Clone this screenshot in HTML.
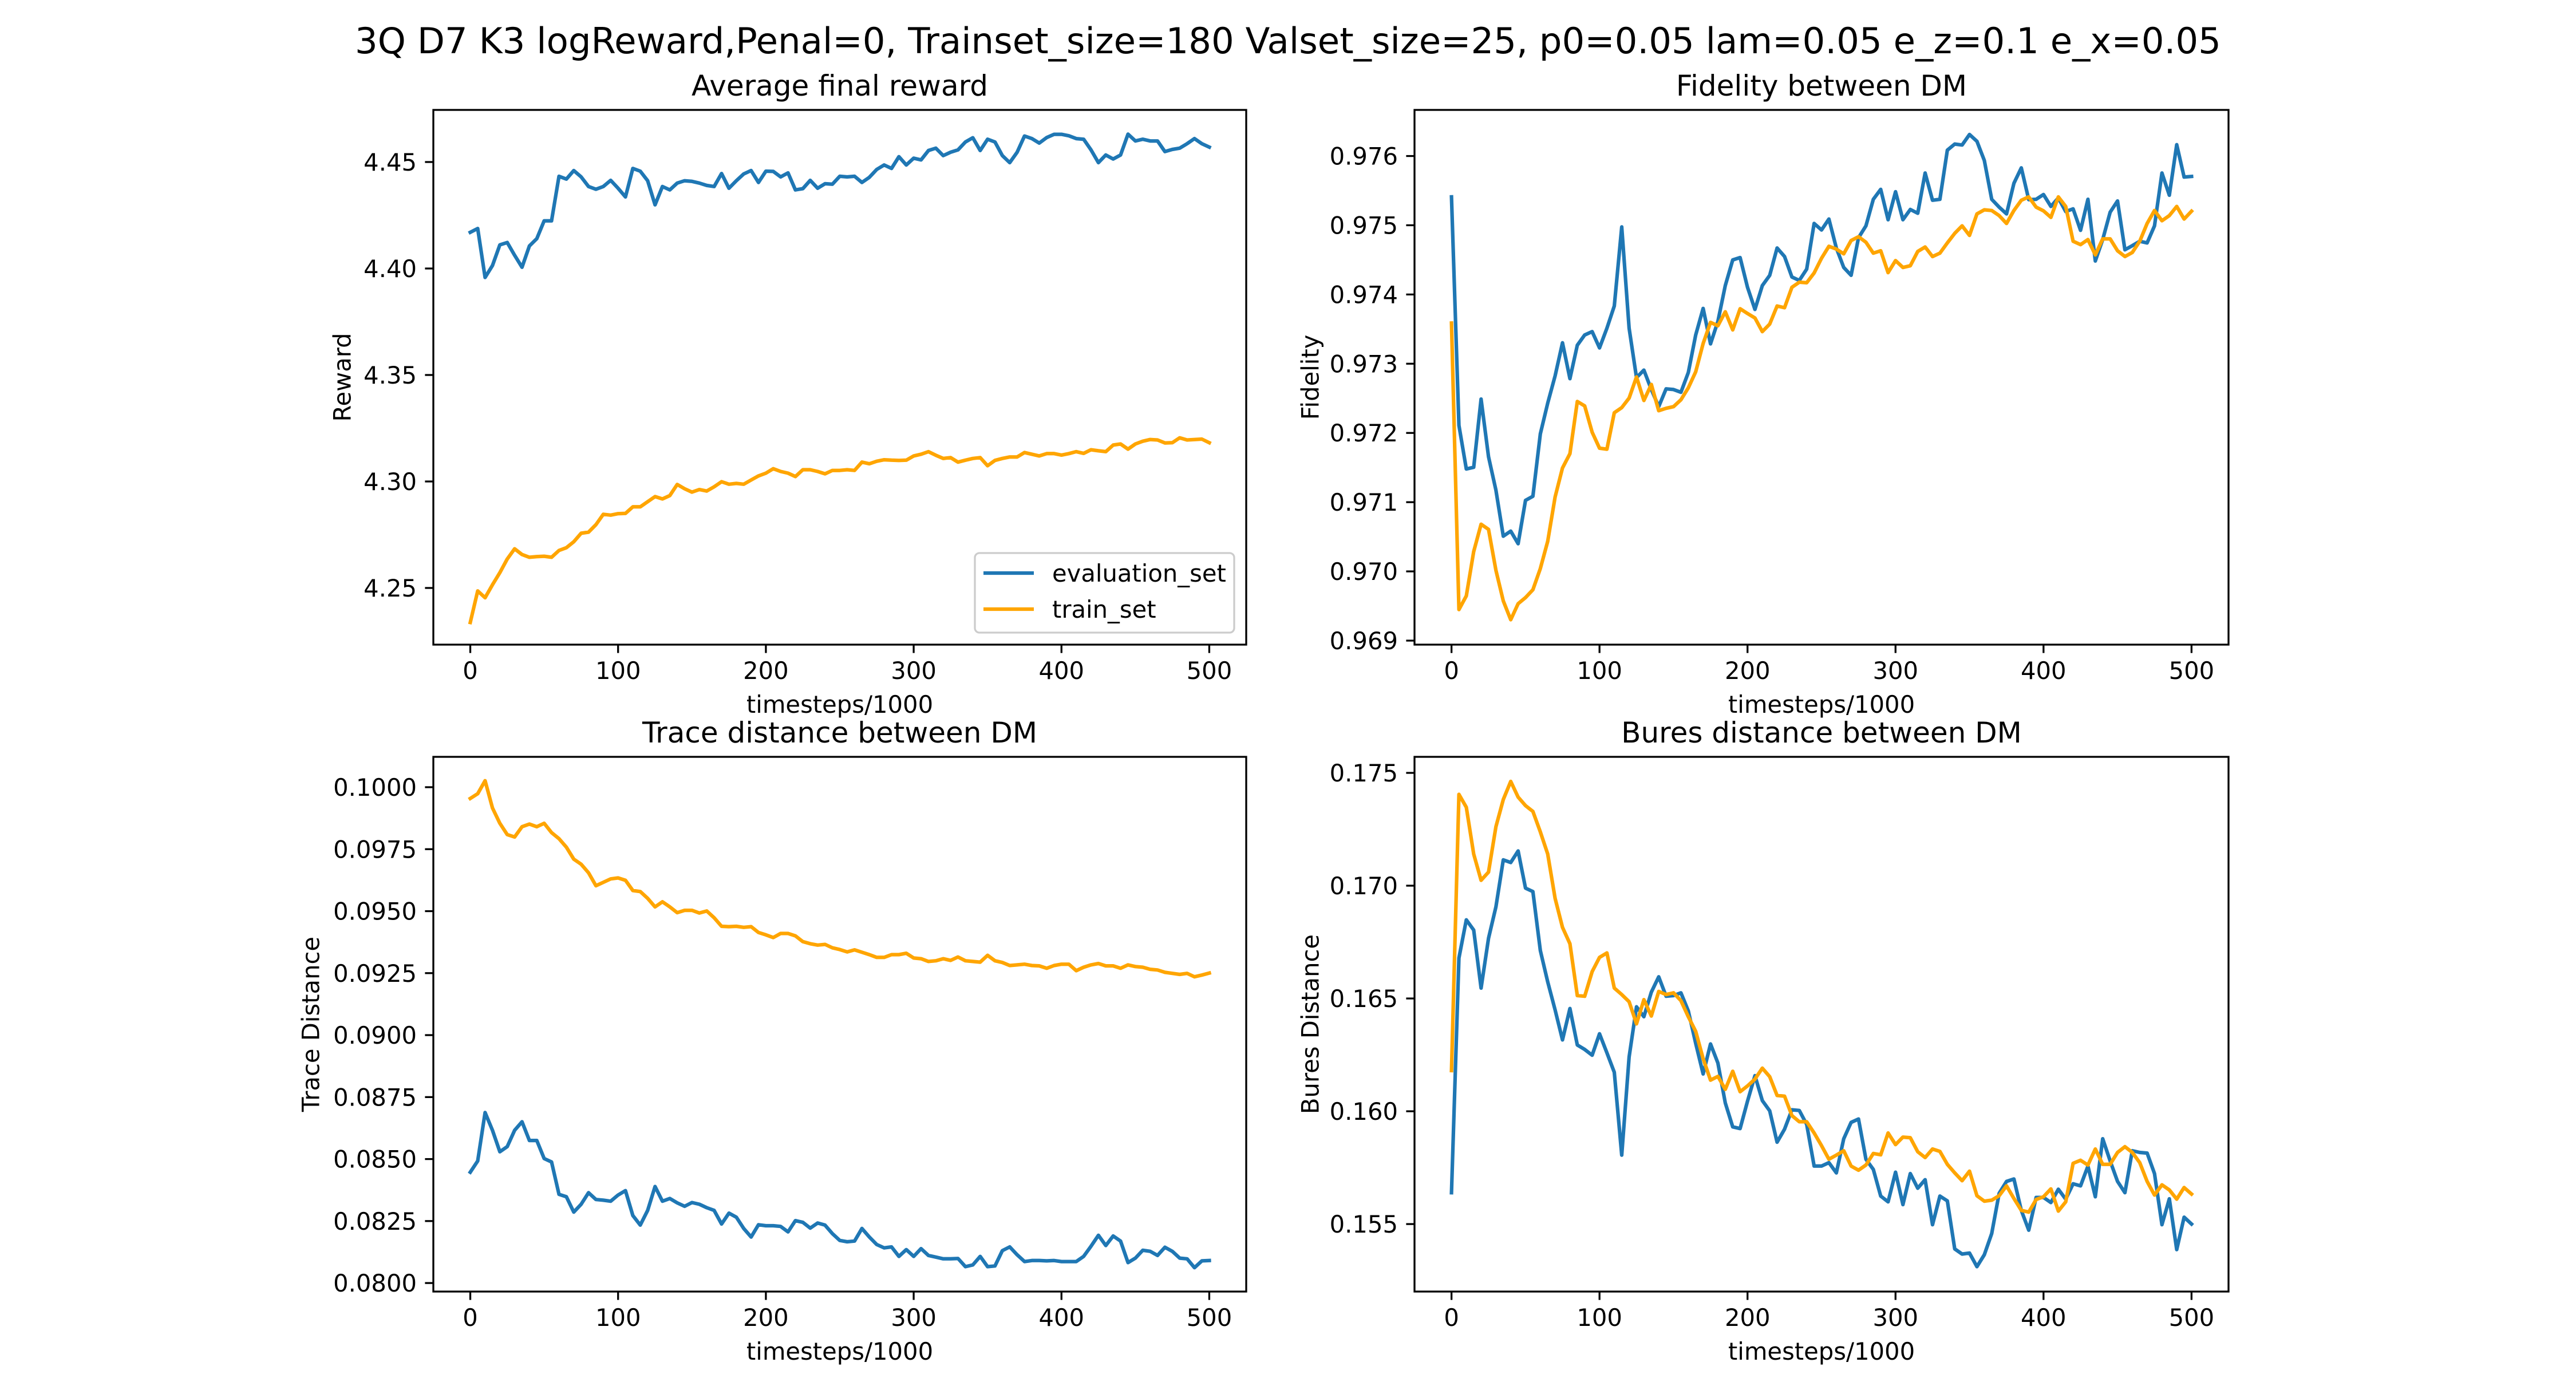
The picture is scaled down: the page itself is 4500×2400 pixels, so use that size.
<!DOCTYPE html>
<html><head><meta charset="utf-8"><style>
html,body{margin:0;padding:0;background:#fff;}
svg{display:block;font-family:"DejaVu Sans","Liberation Sans",sans-serif;}
</style></head><body>
<svg id="fig" width="4500" height="2400" viewBox="0 0 4500 2400" xmlns="http://www.w3.org/2000/svg">
<rect x="0" y="0" width="4500" height="2400" fill="#fff"/>
<text x="2250" y="93" font-size="62.5" text-anchor="middle">3Q D7 K3 logReward,Penal=0, Trainset_size=180 Valset_size=25, p0=0.05 lam=0.05 e_z=0.1 e_x=0.05</text>
</svg>
<script>
const timesteps = []; for (let i = 0; i <= 100; i++) timesteps.push(i * 5);
const xTicks = [0, 100, 200, 300, 400, 500];

const rewardEval = [4.4170,4.4188,4.3958,4.4014,4.4111,4.4122,4.4062,4.4006,4.4106,4.4140,4.4224,4.4224,4.4433,4.4420,4.4460,4.4430,4.4385,4.4372,4.4385,4.4414,4.4377,4.4336,4.4470,4.4457,4.4412,4.4299,4.4385,4.4369,4.4401,4.4412,4.4409,4.4401,4.4390,4.4385,4.4446,4.4377,4.4412,4.4444,4.4460,4.4404,4.4457,4.4456,4.4430,4.4449,4.4369,4.4375,4.4414,4.4377,4.4398,4.4396,4.4433,4.4430,4.4433,4.4404,4.4428,4.4465,4.4486,4.4470,4.4525,4.4486,4.4518,4.4510,4.4554,4.4565,4.4530,4.4546,4.4557,4.4594,4.4614,4.4554,4.4607,4.4594,4.4530,4.4497,4.4546,4.4622,4.4610,4.4589,4.4615,4.4630,4.4630,4.4623,4.4610,4.4607,4.4557,4.4497,4.4533,4.4514,4.4533,4.4631,4.4599,4.4607,4.4599,4.4599,4.4549,4.4559,4.4565,4.4586,4.4610,4.4586,4.4570];
const rewardTrain = [4.2338,4.2486,4.2454,4.2515,4.2572,4.2636,4.2684,4.2657,4.2644,4.2647,4.2649,4.2644,4.2676,4.2689,4.2717,4.2757,4.2762,4.2797,4.2846,4.2842,4.2849,4.2850,4.2881,4.2881,4.2905,4.2929,4.2918,4.2934,4.2986,4.2966,4.2950,4.2962,4.2955,4.2975,4.2999,4.2987,4.2991,4.2987,4.3007,4.3026,4.3039,4.3060,4.3047,4.3039,4.3023,4.3055,4.3055,4.3047,4.3036,4.3052,4.3052,4.3055,4.3052,4.3091,4.3083,4.3095,4.3102,4.3100,4.3099,4.3100,4.3120,4.3128,4.3140,4.3123,4.3108,4.3112,4.3091,4.3100,4.3108,4.3112,4.3074,4.3099,4.3108,4.3115,4.3115,4.3136,4.3128,4.3120,4.3131,4.3131,4.3124,4.3131,4.3140,4.3132,4.3149,4.3144,4.3140,4.3171,4.3176,4.3152,4.3176,4.3189,4.3197,4.3195,4.3181,4.3182,4.3205,4.3195,4.3197,4.3199,4.3182];
const rewardTicks = [4.25, 4.30, 4.35, 4.40, 4.45];
const rewardTickLabels = ["4.25","4.30","4.35","4.40","4.45"];

const fidEval = [0.975410,0.972109,0.971479,0.971504,0.972489,0.971656,0.971174,0.970508,0.970582,0.970400,0.971026,0.971085,0.971986,0.972430,0.972824,0.973302,0.972784,0.973267,0.973415,0.973464,0.973228,0.973513,0.973834,0.974976,0.973513,0.972799,0.972907,0.972627,0.972380,0.972637,0.972627,0.972587,0.972873,0.973415,0.973799,0.973287,0.973612,0.974129,0.974499,0.974533,0.974104,0.973784,0.974129,0.974277,0.974671,0.974548,0.974252,0.974203,0.974366,0.975026,0.974932,0.975090,0.974671,0.974390,0.974277,0.974819,0.974991,0.975375,0.975518,0.975080,0.975484,0.975080,0.975228,0.975173,0.975755,0.975361,0.975375,0.976085,0.976173,0.976159,0.976311,0.976213,0.975937,0.975375,0.975262,0.975164,0.975607,0.975829,0.975370,0.975375,0.975444,0.975272,0.975395,0.975198,0.975237,0.974927,0.975375,0.974484,0.974794,0.975188,0.975351,0.974646,0.974705,0.974769,0.974745,0.974991,0.975755,0.975434,0.976164,0.975696,0.975705];
const fidTrain = [0.973587,0.969449,0.969646,0.970287,0.970681,0.970607,0.970016,0.969573,0.969302,0.969533,0.969622,0.969735,0.970041,0.970435,0.971075,0.971494,0.971701,0.972454,0.972390,0.972011,0.971779,0.971765,0.972292,0.972366,0.972504,0.972809,0.972469,0.972701,0.972321,0.972356,0.972380,0.972479,0.972651,0.972883,0.973292,0.973597,0.973548,0.973750,0.973489,0.973794,0.973725,0.973661,0.973464,0.973572,0.973834,0.973809,0.974104,0.974178,0.974169,0.974311,0.974523,0.974696,0.974656,0.974587,0.974779,0.974834,0.974755,0.974597,0.974632,0.974316,0.974489,0.974390,0.974415,0.974622,0.974686,0.974548,0.974597,0.974745,0.974883,0.974991,0.974853,0.975164,0.975223,0.975213,0.975139,0.975026,0.975213,0.975361,0.975410,0.975262,0.975208,0.975114,0.975410,0.975272,0.974769,0.974720,0.974794,0.974572,0.974804,0.974804,0.974632,0.974548,0.974607,0.974769,0.975026,0.975213,0.975065,0.975139,0.975272,0.975090,0.975203];
const fidTicks = [0.969,0.970,0.971,0.972,0.973,0.974,0.975,0.976];
const fidTickLabels = ["0.969","0.970","0.971","0.972","0.973","0.974","0.975","0.976"];

const traceEval = [0.084470,0.084924,0.086877,0.086162,0.085295,0.085502,0.086162,0.086506,0.085749,0.085749,0.085020,0.084883,0.083576,0.083480,0.082861,0.083177,0.083645,0.083370,0.083342,0.083301,0.083549,0.083728,0.082723,0.082338,0.082930,0.083893,0.083301,0.083411,0.083232,0.083095,0.083246,0.083177,0.083040,0.082930,0.082380,0.082820,0.082655,0.082201,0.081857,0.082352,0.082311,0.082311,0.082283,0.082063,0.082517,0.082448,0.082215,0.082421,0.082338,0.081994,0.081719,0.081664,0.081692,0.082201,0.081857,0.081554,0.081417,0.081458,0.081073,0.081348,0.081073,0.081389,0.081114,0.081045,0.080977,0.080977,0.080990,0.080660,0.080729,0.081073,0.080660,0.080688,0.081307,0.081458,0.081141,0.080866,0.080907,0.080907,0.080893,0.080907,0.080866,0.080866,0.080866,0.081073,0.081486,0.081926,0.081513,0.081898,0.081692,0.080825,0.081004,0.081320,0.081279,0.081114,0.081444,0.081279,0.081004,0.080977,0.080619,0.080893,0.080907];
const traceTrain = [0.099546,0.099738,0.100261,0.099161,0.098542,0.098088,0.097992,0.098404,0.098514,0.098404,0.098542,0.098170,0.097923,0.097579,0.097097,0.096891,0.096547,0.096025,0.096162,0.096300,0.096341,0.096245,0.095832,0.095791,0.095516,0.095172,0.095378,0.095172,0.094938,0.095034,0.095034,0.094924,0.095007,0.094732,0.094388,0.094374,0.094388,0.094347,0.094374,0.094140,0.094044,0.093934,0.094099,0.094099,0.094003,0.093769,0.093686,0.093631,0.093659,0.093521,0.093452,0.093356,0.093439,0.093342,0.093246,0.093136,0.093136,0.093246,0.093246,0.093301,0.093109,0.093081,0.092971,0.092999,0.093081,0.093012,0.093150,0.092999,0.092971,0.092943,0.093219,0.092999,0.092930,0.092806,0.092833,0.092861,0.092806,0.092792,0.092696,0.092806,0.092861,0.092861,0.092600,0.092737,0.092833,0.092888,0.092792,0.092792,0.092696,0.092833,0.092765,0.092737,0.092655,0.092627,0.092531,0.092490,0.092448,0.092490,0.092352,0.092421,0.092503];
const traceTicks = [0.08,0.0825,0.085,0.0875,0.09,0.0925,0.095,0.0975,0.1];
const traceTickLabels = ["0.0800","0.0825","0.0850","0.0875","0.0900","0.0925","0.0950","0.0975","0.1000"];

const buresEval = [0.156392,0.166792,0.168485,0.168032,0.165462,0.167669,0.169060,0.171146,0.171025,0.171539,0.169891,0.169740,0.167125,0.165734,0.164494,0.163164,0.164555,0.162938,0.162741,0.162484,0.163436,0.162590,0.161728,0.158055,0.162408,0.164631,0.164192,0.165281,0.165961,0.165099,0.165129,0.165250,0.164449,0.163013,0.161653,0.162983,0.162136,0.160368,0.159309,0.159234,0.160443,0.161577,0.160474,0.160020,0.158629,0.159204,0.160065,0.160035,0.159415,0.157571,0.157571,0.157722,0.157269,0.158781,0.159506,0.159657,0.157873,0.157420,0.156241,0.155984,0.157299,0.155863,0.157238,0.156589,0.156966,0.154971,0.156241,0.156029,0.153898,0.153671,0.153716,0.153112,0.153641,0.154578,0.156362,0.156891,0.156997,0.155606,0.154729,0.156180,0.156180,0.155954,0.156543,0.156105,0.156785,0.156694,0.157571,0.156211,0.158781,0.157798,0.156891,0.156392,0.158251,0.158176,0.158146,0.157238,0.154971,0.156120,0.153868,0.155304,0.155001];
const buresTrain = [0.161804,0.174048,0.173474,0.171403,0.170239,0.170602,0.172612,0.173821,0.174623,0.173927,0.173549,0.173292,0.172385,0.171403,0.169438,0.168153,0.167427,0.165129,0.165099,0.166188,0.166822,0.167019,0.165462,0.165175,0.164857,0.163875,0.164948,0.164222,0.165311,0.165175,0.165250,0.164903,0.164192,0.163542,0.162333,0.161381,0.161547,0.160972,0.161774,0.160867,0.161124,0.161426,0.161910,0.161532,0.160700,0.160670,0.159808,0.159536,0.159536,0.159037,0.158478,0.157873,0.158055,0.158251,0.157571,0.157389,0.157616,0.158130,0.158070,0.159037,0.158523,0.158856,0.158826,0.158206,0.157949,0.158327,0.158221,0.157647,0.157269,0.156921,0.157344,0.156256,0.156014,0.156059,0.156256,0.156694,0.156135,0.155606,0.155530,0.156089,0.156211,0.156558,0.155575,0.155984,0.157692,0.157828,0.157616,0.158327,0.157647,0.157647,0.158176,0.158432,0.158176,0.157722,0.156891,0.156286,0.156739,0.156513,0.156105,0.156619,0.156331];
const buresTicks = [0.155,0.160,0.165,0.170,0.175];
const buresTickLabels = ["0.155","0.160","0.165","0.170","0.175"];

const NS = "http://www.w3.org/2000/svg";
const svg = document.getElementById("fig");
function mk(tag, attrs, parent) {
  const e = document.createElementNS(NS, tag);
  for (const k in attrs) e.setAttribute(k, attrs[k]);
  (parent || svg).appendChild(e);
  return e;
}

function panel(cfg) {
  const g = mk("g", {});
  
  
  const L = cfg.left, T = cfg.top, W = cfg.width, H = cfg.height;
  const xmin = -25, xmax = 525;
  const sx = v => L + (v - xmin) / (xmax - xmin) * W;
  const sy = v => T + (cfg.ymax - v) / (cfg.ymax - cfg.ymin) * H;

  const title = mk("text", {x: L + W / 2, y: T - 25, "font-size": 50, "text-anchor": "middle"}, g);
  title.textContent = cfg.title;
  
  

  cfg.series.forEach(s => {
    const pts = timesteps.map((t, i) => sx(t).toFixed(1) + "," + sy(s.values[i]).toFixed(1)).join(" ");
    const pl = mk("polyline", {points: pts, fill: "none", stroke: s.color, "stroke-width": 6.25, "stroke-linejoin": "round", "stroke-linecap": "square"}, g);
    
    
  });

  const frame = mk("rect", {x: L, y: T, width: W, height: H, fill: "none", stroke: "#000", "stroke-width": 3.3}, g);
  
  

  xTicks.forEach(t => {
    const x = sx(t);
    const tk = mk("line", {x1: x, y1: T + H, x2: x, y2: T + H + 14.6, stroke: "#000", "stroke-width": 3.3}, g);
    
    
    const lb = mk("text", {x: x, y: T + H + 60, "font-size": 41.7, "text-anchor": "middle"}, g);
    lb.textContent = String(t);
    
    
  });
  cfg.yTicks.forEach((t, i) => {
    const y = sy(t);
    const tk = mk("line", {x1: L - 14.6, y1: y, x2: L, y2: y, stroke: "#000", "stroke-width": 3.3}, g);
    
    
    const lb = mk("text", {x: L - 29, y: y + 15, "font-size": 41.7, "text-anchor": "end"}, g);
    lb.textContent = cfg.yLabels[i];
    
    
  });
  const xl = mk("text", {x: L + W / 2, y: T + H + 119, "font-size": 41.7, "text-anchor": "middle"}, g);
  xl.textContent = "timesteps/1000";
  
  
  const yx = cfg.ylabelX, yy = T + H / 2;
  const yl = mk("text", {x: yx, y: yy, "font-size": 41.7, "text-anchor": "middle", "dominant-baseline": "central", transform: "rotate(-90 " + yx + " " + yy + ")"}, g);
  yl.textContent = cfg.ylabel;
  
  
  return g;
}

const BLUE = "#1f77b4", ORANGE = "#ffa500";
panel({name: "reward-panel", title: "Average final reward", ylabel: "Reward", left: 757, top: 192, width: 1420, height: 934, ymin: 4.22339, ymax: 4.47446, yTicks: rewardTicks, yLabels: rewardTickLabels, ylabelX: 598,
  series: [{name: "reward-evaluation-line", values: rewardEval, color: BLUE}, {name: "reward-train-line", values: rewardTrain, color: ORANGE}]});
panel({name: "fidelity-panel", title: "Fidelity between DM", ylabel: "Fidelity", left: 2471, top: 192, width: 1422, height: 934, ymin: 0.968942, ymax: 0.976666, yTicks: fidTicks, yLabels: fidTickLabels, ylabelX: 2289,
  series: [{name: "fidelity-evaluation-line", values: fidEval, color: BLUE}, {name: "fidelity-train-line", values: fidTrain, color: ORANGE}]});
panel({name: "trace-panel", title: "Trace distance between DM", ylabel: "Trace Distance", left: 757, top: 1322, width: 1420, height: 934, ymin: 0.079656, ymax: 0.101224, yTicks: traceTicks, yLabels: traceTickLabels, ylabelX: 543,
  series: [{name: "trace-evaluation-line", values: traceEval, color: BLUE}, {name: "trace-train-line", values: traceTrain, color: ORANGE}]});
panel({name: "bures-panel", title: "Bures distance between DM", ylabel: "Bures Distance", left: 2471, top: 1322, width: 1422, height: 934, ymin: 0.152008, ymax: 0.175711, yTicks: buresTicks, yLabels: buresTickLabels, ylabelX: 2289,
  series: [{name: "bures-evaluation-line", values: buresEval, color: BLUE}, {name: "bures-train-line", values: buresTrain, color: ORANGE}]});

// legend
const lg = mk("g", {});


const lbox = mk("rect", {x: 1703, y: 966, width: 453, height: 139, rx: 8, fill: "#fff", "fill-opacity": 0.8, stroke: "#cccccc", "stroke-width": 3.3}, lg);


const legendItems = [{label: "evaluation_set", color: BLUE, y: 1001}, {label: "train_set", color: ORANGE, y: 1064}];
legendItems.forEach(it => {
  const ln = mk("line", {x1: 1718, y1: it.y, x2: 1806, y2: it.y, stroke: it.color, "stroke-width": 6.25}, lg);
  
  
  const tx = mk("text", {x: 1838, y: it.y + 15, "font-size": 41.7}, lg);
  tx.textContent = it.label;
  
  
});
</script>
</body></html>
